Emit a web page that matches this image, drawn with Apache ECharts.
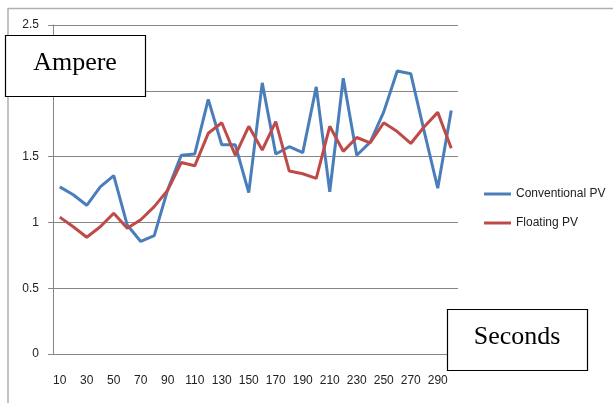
<!DOCTYPE html>
<html>
<head>
<meta charset="utf-8">
<script src="https://cdn.jsdelivr.net/npm/echarts@6/dist/echarts.min.js"></script>
<style>
html,body{margin:0;padding:0;background:#fff;}
#c{width:613px;height:403px;}
</style>
</head>
<body>
<div id="c"></div>
<script>
const categories = [10,20,30,40,50,60,70,80,90,100,110,120,130,140,150,160,170,180,190,200,210,220,230,240,250,260,270,280,290,300];
const conventionalPV = [1.27,1.21,1.13,1.27,1.355,0.98,0.855,0.90,1.25,1.51,1.52,1.935,1.59,1.59,1.226,2.06,1.52,1.575,1.53,2.03,1.233,2.095,1.51,1.61,1.84,2.15,2.13,1.69,1.26,1.85];
const floatingPV = [1.04,0.967,0.887,0.967,1.07,0.955,1.02,1.12,1.245,1.455,1.43,1.677,1.757,1.51,1.73,1.55,1.765,1.39,1.37,1.335,1.73,1.54,1.645,1.605,1.757,1.69,1.60,1.727,1.836,1.563];
const seriesNames = ['Conventional PV','Floating PV'];
const yAxisTitle = 'Ampere';
const xAxisTitle = 'Seconds';

const chart = echarts.init(document.getElementById('c'), null, {renderer:'canvas'});
const gridColor = '#868686';
const option = {
  animation: false,
  backgroundColor: '#fff',
  grid: {left: 53, right: 155, top: 25, bottom: 49, containLabel: false},
  legend: {
    orient: 'vertical',
    left: 479, top: 182,
    icon: 'rect',
    itemWidth: 27, itemHeight: 3,
    itemGap: 15,
    textStyle: {fontFamily: 'Liberation Sans', fontSize: 12, color: '#222', lineHeight: 14},
    data: seriesNames
  },
  xAxis: {
    type: 'category',
    data: categories,
    boundaryGap: true,
    axisLine: {lineStyle: {color: gridColor, width: 1}},
    axisTick: {interval: 0, length: 4, lineStyle: {color: gridColor}},
    axisLabel: {interval: 1, margin: 21, fontFamily: 'Liberation Sans', fontSize: 12, color: '#222'},
    splitLine: {show: false}
  },
  yAxis: {
    type: 'value',
    min: 0, max: 2.5, interval: 0.5,
    axisLine: {show: true, lineStyle: {color: gridColor, width: 1}},
    axisTick: {show: true, length: 5, lineStyle: {color: gridColor}},
    axisLabel: {margin: 14, fontFamily: 'Liberation Sans', fontSize: 12, color: '#222', formatter: v => String(v)},
    splitLine: {show: true, lineStyle: {color: gridColor, width: 1}}
  },
  series: [
    {name: seriesNames[0], type: 'line', data: conventionalPV, symbol: 'none',
     lineStyle: {color: '#4A7EBB', width: 3}, itemStyle: {color: '#4A7EBB'}, z: 2},
    {name: seriesNames[1], type: 'line', data: floatingPV, symbol: 'none',
     lineStyle: {color: '#BE4B48', width: 3}, itemStyle: {color: '#BE4B48'}, z: 3}
  ],
  graphic: [
    {type: 'line', shape: {x1: 8, y1: 8.5, x2: 613, y2: 8.5}, style: {stroke: '#b0b0b0', lineWidth: 1.5}, z: 10},
    {type: 'line', shape: {x1: 8, y1: 8, x2: 8, y2: 403}, style: {stroke: '#b0b0b0', lineWidth: 1.5}, z: 10},
    {type: 'rect', shape: {x: 5.5, y: 35.5, width: 140, height: 61}, style: {fill: '#fff', stroke: '#000', lineWidth: 1.2}, z: 20},
    {type: 'text', x: 75, y: 63, style: {text: yAxisTitle, font: '26px "Liberation Serif"', fill: '#000', textAlign: 'center', textVerticalAlign: 'middle'}, z: 21},
    {type: 'rect', shape: {x: 447.5, y: 309.5, width: 140, height: 61}, style: {fill: '#fff', stroke: '#000', lineWidth: 1.2}, z: 20},
    {type: 'text', x: 517, y: 337, style: {text: xAxisTitle, font: '26px "Liberation Serif"', fill: '#000', textAlign: 'center', textVerticalAlign: 'middle'}, z: 21}
  ]
};
chart.setOption(option);
</script>
</body>
</html>
